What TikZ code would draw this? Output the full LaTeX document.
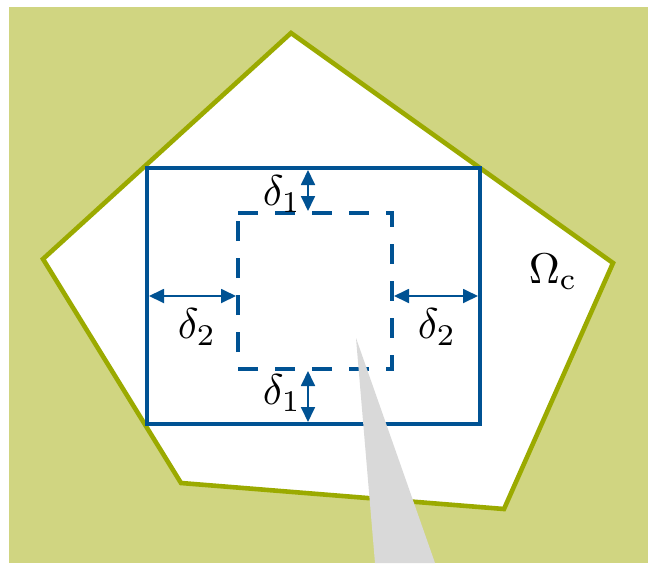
\documentclass[tikz,border=0pt]{standalone}
\usetikzlibrary{arrows.meta}
\definecolor{bgolive}{RGB}{208,213,129}
\definecolor{lineolive}{RGB}{155,170,0}
\definecolor{dblue}{RGB}{0,82,147}
\definecolor{wedgegrey}{RGB}{217,217,217}
\tikzset{
  dimarrow/.style={dblue, line width=1.8pt, {Triangle[length=15pt,width=14pt]}-{Triangle[length=15pt,width=14pt]}},
  lbl/.style={scale=4.3, inner sep=0pt},
}
\begin{document}
\begin{tikzpicture}[x=1pt,y=-1pt]
\useasboundingbox (0,0) rectangle (648,563);
% background
\fill[bgolive] (9,7) rectangle (648,563);
% pentagon
\coordinate (pt) at (291,33);
\coordinate (pl) at (43,259);
\coordinate (pbl) at (181,483);
\coordinate (pbr) at (504,509);
\coordinate (pr) at (613,263);
\filldraw[fill=white, draw=lineolive, line width=4.6pt, line join=miter] (pt) -- (pr) -- (pbr) -- (pbl) -- (pl) -- cycle;
% solid rectangle
\draw[dblue, line width=4.5pt] (147,168) rectangle (480,424);
% dashed rectangle
\draw[dblue, line width=4.5pt, dash pattern=on 20pt off 17pt] (238,213) -- (392,213) -- (392,369) -- (238,369) -- cycle;
% arrow coordinates
\coordinate (t1) at (308,170);
\coordinate (t2) at (308,211);
\coordinate (b1) at (308,371);
\coordinate (b2) at (308,422);
\coordinate (l1) at (149,296);
\coordinate (l2) at (236,296);
\coordinate (r1) at (394,296);
\coordinate (r2) at (478,296);
\draw[dimarrow] (t1) -- (t2);
\draw[dimarrow] (b1) -- (b2);
\draw[dimarrow] (l1) -- (l2);
\draw[dimarrow] (r1) -- (r2);
% labels
\node[lbl] (d1t) at (282,194) {$\delta_1$};
\node[lbl] (d1b) at (282,393) {$\delta_1$};
\node[lbl] (d2l) at (197,327) {$\delta_2$};
\node[lbl] (d2r) at (437,327) {$\delta_2$};
\node[lbl] (om) at (553,272) {$\Omega_\mathrm{c}$};
% grey wedge
\fill[wedgegrey] (356,338) -- (435,563) -- (375,563) -- cycle;
\end{tikzpicture}
\end{document}
